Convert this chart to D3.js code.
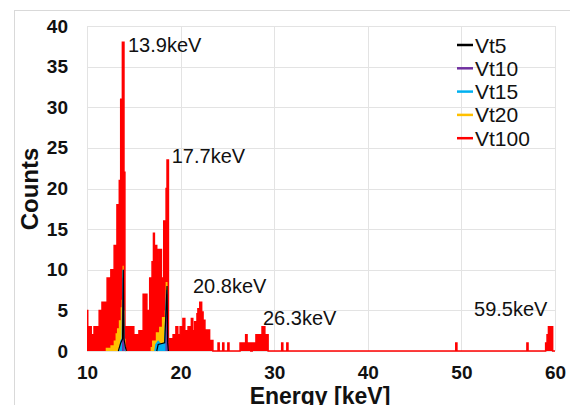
<!DOCTYPE html>
<html>
<head>
<meta charset="utf-8">
<script src="https://cdn.jsdelivr.net/npm/d3@7"></script>
<style>
  body { margin: 0; background: #fff; }
  svg { display: block; font-family: "Liberation Sans", Arial, sans-serif; }
</style>
</head>
<body>
<svg id="chart" width="570" height="405"></svg>
<script>
// tick values
var xTicks = [10, 20, 30, 40, 50, 60];
var yTicks = [0, 5, 10, 15, 20, 25, 30, 35, 40];

var seriesNames = ['Vt5', 'Vt10', 'Vt15', 'Vt20', 'Vt100'];

// Vt100 spectrum: bin start energy [keV] and counts (step after)
var vt100Energy = [10.0, 10.08, 10.45, 10.75, 11.3, 11.6, 12.15, 12.55, 12.9, 13.2, 13.45, 13.6, 13.78, 13.95, 14.05,
  14.5, 15.0, 15.55, 16.0, 16.4, 16.7, 16.95, 17.1, 17.2, 17.45, 17.6, 17.95, 18.2, 18.45, 18.55, 18.7,
  19.2, 19.5, 19.7, 19.95, 20.25, 20.45, 20.8, 21.15, 21.3, 21.5, 21.75, 21.85, 22.05, 22.25, 22.4, 22.6,
  23.1, 23.45, 24.0, 24.12, 24.5, 24.62, 25.05, 25.17, 26.35, 26.95, 27.1, 27.5, 27.65, 28.05, 28.7, 29.0, 29.35,
  30.8, 30.92, 31.35, 31.47, 49.4, 49.52, 57.0, 57.12, 59.0, 59.15, 59.3, 59.75, 60.0];
var vt100Counts = [5, 3, 2, 3, 5, 6, 9, 10, 13, 18, 21, 31, 38, 22, 3,
  3, 2, 2.5, 7, 5, 9, 11, 14.5, 13, 11, 12.5, 9, 16, 20, 23.5, 1.5,
  2, 3, 2, 3, 4, 2.5, 3, 4, 2.5, 3.6, 4.6, 5.2, 6, 4.8, 3.8, 2.6,
  1.3, 0, 1, 0, 1, 0, 1, 0, 1, 2, 1, 0, 1, 2, 3, 2, 0,
  1, 0, 1, 0, 1, 0, 1, 0, 1, 2, 3, 0, 0];

// Vt20 (step after)
var vt20Energy = [12.0, 12.5, 12.85, 13.05, 13.2, 13.4, 13.6, 13.7, 13.8, 13.92, 14.02, 14.12,
  16.8, 16.95, 17.35, 17.7, 18.0, 18.3, 18.4, 18.6];
var vt20Counts = [0.4, 0.7, 1.3, 2.2, 2.8, 3.8, 5.4, 6.3, 10.5, 5, 1.5, 0,
  0.5, 1.3, 2.3, 3, 4.2, 5, 8.5, 0];

// Vt15 (null = gap)
var vt15Energy = [13.5, 13.6, 13.75, 13.85, 13.95, 14.05, 15, 17.25, 17.35, 17.6, 17.9, 18.3, 18.5, 18.6];
var vt15Counts = [0, 1.2, 1.5, 10, 1.2, 0, null, 0, 0.8, 1.2, 0.8, 1, 7.5, 0];

// Vt10
var vt10Energy = [13.8, 13.87, 13.95, 15, 18.45, 18.53, 18.62];
var vt10Counts = [0, 9, 0, null, 0, 7, 0];

// Vt5
var vt5Energy = [13.35, 13.6, 13.8, 13.88, 13.95, 14.1, 14.2, 15, 17.45, 17.6, 18.3, 18.55, 18.62, 18.7];
var vt5Counts = [0, 1, 1.5, 10, 1.5, 0.5, 0, null, 0, 0.8, 1, 8, 1, 0];

// peak annotations (anchor in data units)
var peakText = ['13.9keV', '17.7keV', '20.8keV', '26.3keV', '59.5keV'];
var peakE = [14.38, 19.05, 21.32, 28.8, 51.35];
var peakC = [36.8, 23.1, 7.14, 3.2, 4.3];

var colors = { Vt5: '#000000', Vt10: '#7030a0', Vt15: '#00b0f0', Vt20: '#ffc000', Vt100: '#ff0000' };

var svg = d3.select('#chart');
var plot = { left: 87, right: 555, top: 26, bottom: 351 };

var x = d3.scaleLinear().domain([10, 60]).range([plot.left, plot.right]);
var y = d3.scaleLinear().domain([0, 40]).range([plot.bottom, plot.top]);

function pts(es, cs) {
  return es.map(function(e, i) { return { e: e, c: cs[i] }; });
}

// outer frame
svg.append('rect')
  .attr('x', 14.5).attr('y', 10.5)
  .attr('width', 570).attr('height', 420)
  .style('fill', 'none').style('stroke', '#d9d9d9');

// gridlines
svg.append('g').selectAll('line').data(yTicks).enter().append('line')
  .attr('x1', plot.left).attr('x2', plot.right)
  .attr('y1', d => Math.round(y(d)) + 0.5).attr('y2', d => Math.round(y(d)) + 0.5)
  .style('stroke', '#e3e3e3').style('stroke-width', 1);
svg.append('g').selectAll('line').data(xTicks).enter().append('line')
  .attr('x1', d => Math.round(x(d)) + 0.5).attr('x2', d => Math.round(x(d)) + 0.5)
  .attr('y1', plot.top).attr('y2', plot.bottom)
  .style('stroke', '#e3e3e3').style('stroke-width', 1);

// axes (labels only)
var yAxis = svg.append('g')
  .attr('transform', `translate(${plot.left},0)`)
  .call(d3.axisLeft(y).tickValues(yTicks).tickSize(0).tickPadding(19));
var xAxis = svg.append('g')
  .attr('transform', `translate(0,${plot.bottom})`)
  .call(d3.axisBottom(x).tickValues(xTicks).tickSize(0).tickPadding(15));
[yAxis, xAxis].forEach(function(a) {
  a.select('.domain').remove();
  a.attr('font-family', null).attr('font-size', null);
  a.selectAll('text').style('font-size', '19px').style('font-weight', 'bold').style('fill', '#111');
});

// Vt100 red spectrum
var areaStep = d3.area().curve(d3.curveStepAfter)
  .x(d => x(d.e)).y0(y(0)).y1(d => y(d.c));
var lineStep = d3.line().curve(d3.curveStepAfter)
  .x(d => x(d.e)).y(d => y(d.c));

var red = pts(vt100Energy, vt100Counts);
svg.append('path').datum(red)
  .attr('d', areaStep).style('fill', colors.Vt100);
svg.append('path').datum(red)
  .attr('d', lineStep).style('fill', 'none').style('stroke', colors.Vt100).style('stroke-width', 1.5);

// Vt20
var orange = pts(vt20Energy, vt20Counts);
svg.append('path').datum(orange)
  .attr('d', areaStep).style('fill', colors.Vt20);

// inner series
var areaLin = d3.area().defined(d => d.c != null)
  .x(d => x(d.e)).y0(y(0)).y1(d => y(d.c));
var lineLin = d3.line().defined(d => d.c != null)
  .x(d => x(d.e)).y(d => y(d.c));

var v5 = pts(vt5Energy, vt5Counts);
svg.append('path').datum(v5).attr('d', areaLin).style('fill', '#fff');

var v15 = pts(vt15Energy, vt15Counts);
svg.append('path').datum(v15).attr('d', areaLin).style('fill', colors.Vt15);
svg.append('path').datum(v15).attr('d', lineLin)
  .style('fill', 'none').style('stroke', colors.Vt15).style('stroke-width', 1.2);

var v10 = pts(vt10Energy, vt10Counts);
svg.append('path').datum(v10).attr('d', lineLin)
  .style('fill', 'none').style('stroke', colors.Vt10).style('stroke-width', 1.2);

svg.append('path').datum(v5).attr('d', lineLin)
  .style('fill', 'none').style('stroke', colors.Vt5).style('stroke-width', 1.2);

// peak labels
svg.append('g').selectAll('text').data(peakText).enter().append('text')
  .attr('x', (d, i) => x(peakE[i]))
  .attr('y', (d, i) => y(peakC[i]))
  .style('font-size', '20px').style('fill', '#111')
  .text(d => d);

// legend
var leg = svg.append('g').attr('transform', 'translate(457,45)');
seriesNames.forEach(function(name, i) {
  var row = leg.append('g').attr('transform', `translate(0,${i * 23.3})`);
  row.append('line').attr('x1', 0).attr('x2', 16).attr('y1', 0).attr('y2', 0)
    .style('stroke', colors[name]).style('stroke-width', 2.5);
  row.append('text').attr('x', 18).attr('y', 7.5)
    .style('font-size', '21px').style('fill', '#111')
    .text(name);
});

// axis titles
svg.append('text')
  .attr('transform', 'translate(38,189) rotate(-90)')
  .attr('text-anchor', 'middle')
  .style('font-size', '24px').style('font-weight', 'bold').style('fill', '#111')
  .text('Counts');
svg.append('text')
  .attr('x', 320).attr('y', 404)
  .attr('text-anchor', 'middle')
  .style('font-size', '23px').style('font-weight', 'bold').style('fill', '#111')
  .text('Energy [keV]');
</script>
</body>
</html>
